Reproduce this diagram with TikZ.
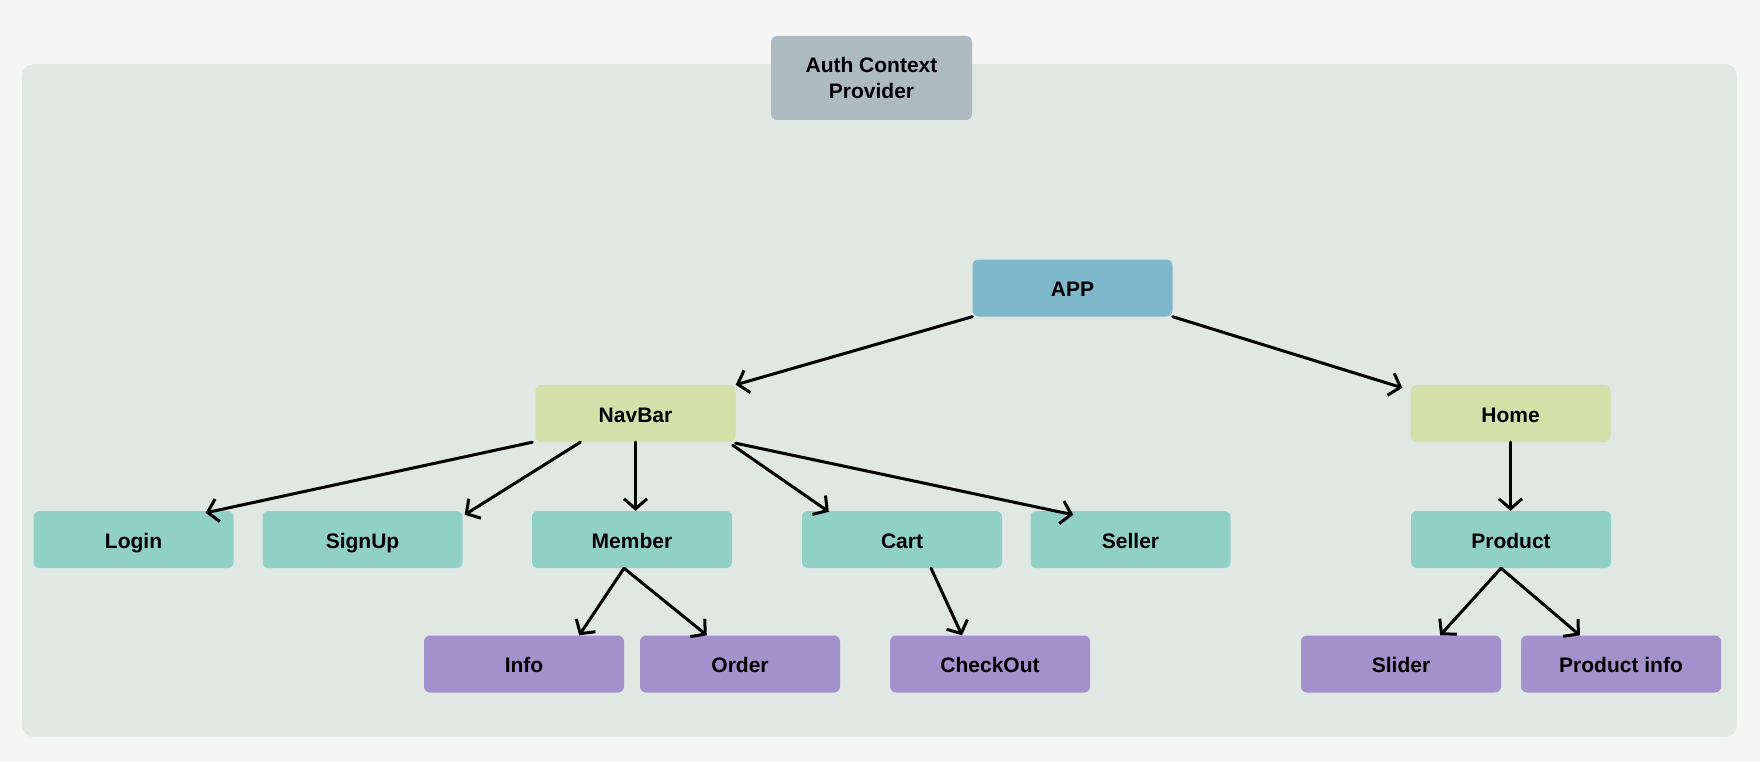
\documentclass[tikz,border=0pt]{standalone}
\usepackage{fontspec}
\setmainfont{Liberation Sans}
\usetikzlibrary{arrows.meta,calc}
\definecolor{outerbg}{HTML}{F5F5F5}
\definecolor{contbg}{HTML}{DFE8E3}
\definecolor{authc}{HTML}{ADBBC0}
\definecolor{appc}{HTML}{7FB8CB}
\definecolor{lvlone}{HTML}{D5DFA9}
\definecolor{lvltwo}{HTML}{91D0C4}
\definecolor{lvlthree}{HTML}{A391CB}
\begin{document}
\begin{tikzpicture}[x=1pt,y=-1pt,
  basebox/.style={rounded corners=6pt, inner sep=0pt, minimum width=200pt, minimum height=57pt,
    font=\fontsize{21}{26}\selectfont\bfseries, text=black},
  box/.style={basebox, text height=19pt, text depth=2pt},
  authbox/.style={basebox, fill=authc, align=center, minimum width=201pt, minimum height=84pt},
  appbox/.style={box, fill=appc},
  onebox/.style={box, fill=lvlone},
  twobox/.style={box, fill=lvltwo},
  threebox/.style={box, fill=lvlthree},
  conn/.style={draw=black, line width=3pt, line cap=round, -{Straight Barb[length=10pt,width=23pt,line width=3pt]}}
]
\fill[outerbg] (0,0) rectangle (1760,762);
\useasboundingbox (0,0) rectangle (1760,762);
\fill[contbg, rounded corners=12pt] (22,64) rectangle (1737,737);

\node[authbox] (auth) at (871.5,78) {Auth Context\\Provider};
\node[appbox] (app) at (1072.5,288) {APP};
\node[onebox] (navbar) at (635.5,413.5) {NavBar};
\node[onebox] (home) at (1510.5,413.5) {Home};

\node[twobox] (login) at (133.5,539.5) {Login};
\node[twobox] (signup) at (362.5,539.5) {SignUp};
\node[twobox] (member) at (632,539.5) {Member};
\node[twobox] (cart) at (902,539.5) {Cart};
\node[twobox] (seller) at (1130.5,539.5) {Seller};
\node[twobox] (product) at (1511,539.5) {Product};

\node[threebox] (info) at (524,664) {Info};
\node[threebox] (order) at (740,664) {Order};
\node[threebox] (checkout) at (990,664) {CheckOut};
\node[threebox] (slider) at (1401,664) {Slider};
\node[threebox] (pinfo) at (1621,664) {Product info};

\draw[conn] (app.south west) -- (navbar.north east);
\draw[conn] (app.south east) -- ([shift={(-8pt,-3pt)}]home.north west);

\draw[conn] ([xshift=-3pt]navbar.south west) -- ([shift={(-28pt,-2pt)}]login.north east);
\draw[conn] ([xshift=45pt]navbar.south west) -- ([shift={(2pt,-4pt)}]signup.north east);
\draw[conn] (navbar.south) -- (navbar.south |- member.north);
\draw[conn] ([shift={(-3pt,-3pt)}]navbar.south east) -- ([shift={(27pt,-1pt)}]cart.north west);
\draw[conn] ([shift={(0pt,-1pt)}]navbar.south east) -- ([shift={(43pt,-4pt)}]seller.north west);

\draw[conn] ([xshift=-8pt]member.south) -- ([xshift=-45pt]info.north east);
\draw[conn] ([xshift=-8pt]member.south) -- ([xshift=67pt]order.north west);
\draw[conn] ([xshift=29pt]cart.south) -- ([xshift=-28pt]checkout.north);

\draw[conn] (home.south) -- (home.south |- product.north);
\draw[conn] ([xshift=-10pt]product.south) -- ([xshift=-61pt]slider.north east);
\draw[conn] ([xshift=-10pt]product.south) -- ([xshift=59pt]pinfo.north west);
\end{tikzpicture}
\end{document}
